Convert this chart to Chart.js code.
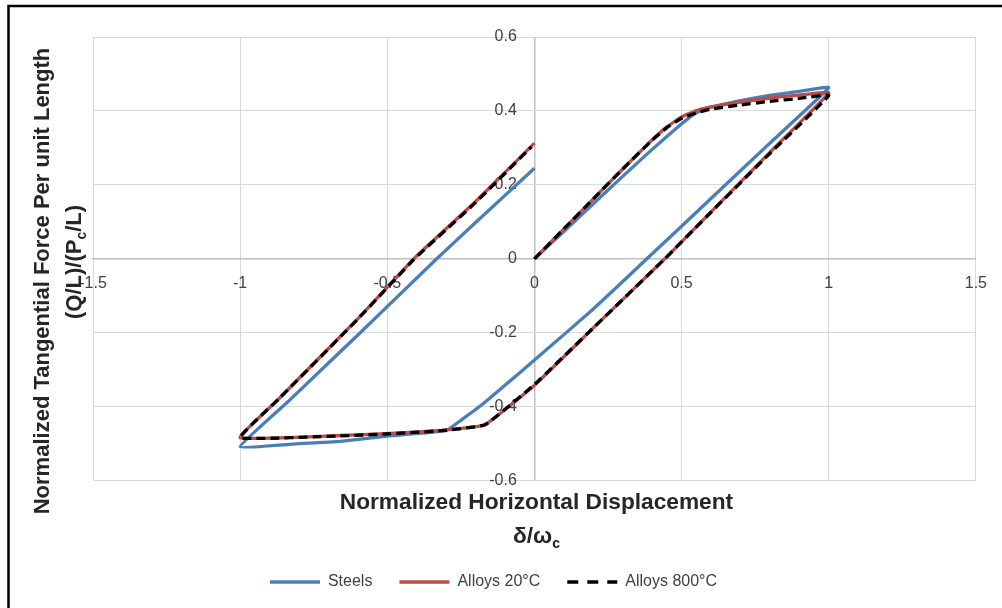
<!DOCTYPE html>
<html>
<head>
<meta charset="utf-8">
<script src="https://cdn.jsdelivr.net/npm/chart.js@4"></script>
<style>
  html, body { margin: 0; padding: 0; background: #fff; overflow: hidden; }
  #wrap { position: relative; width: 1002px; height: 608px; }
</style>
</head>
<body>
<div id="wrap"><canvas id="chart" width="1002" height="608"></canvas></div>
<script>
// hysteresis loops
// x = δ/ωc, y = (Q/L)/(Pc/L); path: load 0→1, unload 1→-1, reload -1→0
const seriesNames = ['Steels', 'Alloys 20°C', 'Alloys 800°C'];

const steelsX = [0, 0.1, 0.2, 0.3, 0.4, 0.5, 0.55, 0.6, 0.7, 0.8, 0.9, 1.0,
  0.8, 0.6, 0.382, 0.2, 0, -0.078, -0.179, -0.25, -0.3,
  -0.507, -0.66, -0.8, -1.0,
  -0.83, -0.6, -0.332, -0.2, 0];
const steelsY = [0, 0.074, 0.149, 0.223, 0.296, 0.365, 0.395, 0.41, 0.428, 0.442, 0.453, 0.463,
  0.313, 0.163, 0, -0.136, -0.274, -0.327, -0.395, -0.437, -0.465,
  -0.48, -0.494, -0.5, -0.508,
  -0.381, -0.206, 0, 0.098, 0.245];

const alloys20X = [0, 0.1, 0.2, 0.3, 0.4, 0.45, 0.5, 0.55, 0.6, 0.7, 0.8, 0.9, 1.0,
  0.8, 0.6, 0.443, 0.2, 0, -0.168,
  -0.315, -0.507, -0.66, -1.0,
  -0.87, -0.6, -0.41, -0.2, 0];
const alloys20Y = [0, 0.081, 0.162, 0.243, 0.322, 0.357, 0.384, 0.401, 0.411, 0.424, 0.435, 0.443, 0.449,
  0.288, 0.127, 0, -0.187, -0.342, -0.449,
  -0.464, -0.473, -0.478, -0.484,
  -0.38, -0.162, 0, 0.155, 0.313];

const alloys800X = [0, 0.1, 0.2, 0.3, 0.4, 0.45, 0.5, 0.55, 0.6, 0.7, 0.8, 0.9, 1.0,
  0.8, 0.6, 0.443, 0.2, 0, -0.168,
  -0.315, -0.507, -0.66, -1.0,
  -0.87, -0.6, -0.41, -0.2, -0.01];
const alloys800Y = [0, 0.081, 0.162, 0.243, 0.321, 0.355, 0.38, 0.395, 0.405, 0.416, 0.426, 0.434, 0.442,
  0.285, 0.126, 0, -0.187, -0.34, -0.449,
  -0.465, -0.474, -0.479, -0.484,
  -0.38, -0.163, -0.002, 0.152, 0.303];

const xTickLabels = ['-1.5', '-1', '-0.5', '0', '0.5', '1', '1.5'];
const yTickLabels = ['-0.6', '-0.4', '-0.2', '0', '0.2', '0.4', '0.6'];

const xTitle = ['Normalized Horizontal Displacement', ['δ/ω', 'c', '']];
const yTitle = ['Normalized Tangential Force Per unit Length', ['(Q/L)/(P', 'c', '/L)']];

const FONT = '"Liberation Sans", Arial, sans-serif';
const TICK_COLOR = '#404040';
const TITLE_COLOR = '#262626';
const GRID_COLOR = '#d9d9d9';
const AXIS_COLOR = '#bfbfbf';

function toPoints(xs, ys) {
  return xs.map((x, i) => ({ x, y: ys[i] }));
}

// text with a subscript piece, centered on cx, baseline at base
function drawSubLine(ctx, parts, cx, base, size) {
  const mainFont = 'bold ' + size + 'px ' + FONT;
  const subFont = 'bold 14px ' + FONT;
  ctx.font = mainFont;
  const w0 = ctx.measureText(parts[0]).width;
  const w2 = ctx.measureText(parts[2]).width;
  ctx.font = subFont;
  const w1 = ctx.measureText(parts[1]).width;
  let x = cx - (w0 + w1 + w2) / 2;
  ctx.textAlign = 'left';
  ctx.font = mainFont;
  ctx.fillText(parts[0], x, base);
  x += w0;
  ctx.font = subFont;
  ctx.fillText(parts[1], x, base + 5);
  x += w1;
  ctx.font = mainFont;
  ctx.fillText(parts[2], x, base);
}

const axisTitles = {
  id: 'axisTitles',
  afterDraw(chart) {
    const ctx = chart.ctx;
    const area = chart.chartArea;
    const cx = (area.left + area.right) / 2 + 2;
    ctx.save();
    ctx.fillStyle = TITLE_COLOR;
    ctx.textBaseline = 'alphabetic';

    // x title
    ctx.font = 'bold 22.7px ' + FONT;
    ctx.textAlign = 'center';
    ctx.fillText(xTitle[0], cx, 509);
    drawSubLine(ctx, xTitle[1], cx, 543, 22.7);

    // y title (rotated)
    ctx.save();
    ctx.translate(49, 281);
    ctx.rotate(-Math.PI / 2);
    ctx.font = 'bold 22px ' + FONT;
    ctx.textAlign = 'center';
    ctx.fillText(yTitle[0], 0, 0);
    ctx.restore();
    ctx.save();
    ctx.translate(81, 262);
    ctx.rotate(-Math.PI / 2);
    drawSubLine(ctx, yTitle[1], 0, 0, 22);
    ctx.restore();

    // outer frame (only the left and top edges are in view)
    ctx.strokeStyle = '#000';
    ctx.lineWidth = 2.5;
    ctx.beginPath();
    ctx.moveTo(8.5, 620);
    ctx.lineTo(8.5, 6);
    ctx.lineTo(1010, 6);
    ctx.stroke();
    ctx.restore();
  }
};

// Excel centres the legend on the whole chart, not the plot area
const legendShift = {
  id: 'legendShift',
  afterLayout(chart) {
    const lg = chart.legend;
    if (lg) { lg.left -= 41; lg.right -= 41; }
  }
};

const lineColors = ['#4a7ebb', '#be4b48', '#000000'];

new Chart(document.getElementById('chart'), {
  type: 'scatter',
  data: {
    datasets: [
      {
        label: seriesNames[0],
        data: toPoints(steelsX, steelsY),
        borderColor: lineColors[0],
        borderWidth: 3.3,
        order: 3,
      },
      {
        label: seriesNames[1],
        data: toPoints(alloys20X, alloys20Y),
        borderColor: lineColors[1],
        borderWidth: 3.3,
        order: 2,
      },
      {
        label: seriesNames[2],
        data: toPoints(alloys800X, alloys800Y),
        borderColor: lineColors[2],
        borderWidth: 3.3,
        borderDash: [9, 5],
        order: 1,
      }
    ]
  },
  options: {
    responsive: false,
    animation: false,
    showLine: true,
    elements: {
      point: { radius: 0, hoverRadius: 0 },
      line: { tension: 0.1, fill: false }
    },
    layout: { padding: { left: 93, right: 26, top: 37, bottom: 8 } },
    scales: {
      x: {
        type: 'linear',
        position: { y: 0 },
        min: -1.5, max: 1.5,
        ticks: {
          stepSize: 0.5,
          padding: 15,
          color: TICK_COLOR,
          font: { family: FONT, size: 16 },
          maxRotation: 0,
          callback: (v, i) => xTickLabels[i]
        },
        // the x = 0 grid line doubles as the vertical axis line
        grid: {
          color: c => (c.tick && c.tick.value === 0 ? AXIS_COLOR : GRID_COLOR),
          lineWidth: c => (c.tick && c.tick.value === 0 ? 1.5 : 1),
          drawTicks: false
        },
        border: { color: AXIS_COLOR, width: 1.5 }
      },
      y: {
        type: 'linear',
        // labels sit a little left of x = 0, like Excel's "next to axis"
        position: { x: -0.06 },
        min: -0.6, max: 0.6,
        ticks: {
          stepSize: 0.2,
          color: TICK_COLOR,
          font: { family: FONT, size: 16 },
          callback: (v, i) => yTickLabels[i]
        },
        grid: { color: GRID_COLOR, lineWidth: 1, drawTicks: false },
        border: { display: false }
      }
    },
    plugins: {
      tooltip: { enabled: false },
      legend: {
        position: 'bottom',
        title: { display: true, text: '', padding: { top: 52, bottom: 0 }, font: { size: 12 } },
        labels: {
          usePointStyle: true,
          pointStyle: 'line',
          pointStyleWidth: 50,
          padding: 27,
          color: TICK_COLOR,
          font: { family: FONT, size: 16 },
          sort: (a, b) => a.datasetIndex - b.datasetIndex,
          generateLabels(chart) {
            const items = Chart.defaults.plugins.legend.labels.generateLabels(chart);
            items.forEach(it => {
              it.strokeStyle = lineColors[it.datasetIndex];
              it.lineWidth = 3.3;
              it.lineDash = it.datasetIndex === 2 ? [11, 9] : [];
            });
            return items;
          }
        }
      }
    }
  },
  plugins: [axisTitles, legendShift]
});
</script>
</body>
</html>
